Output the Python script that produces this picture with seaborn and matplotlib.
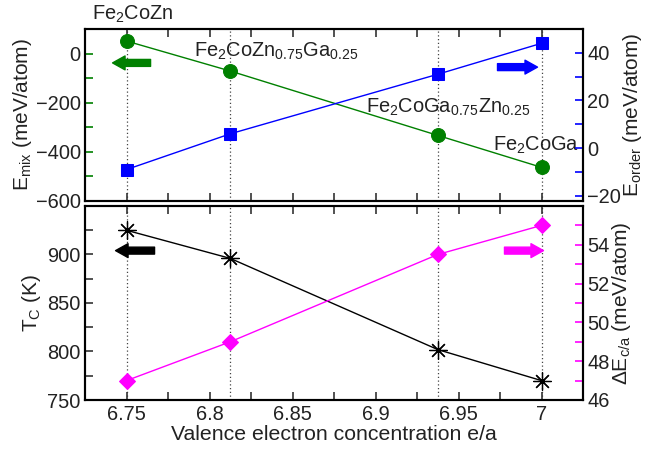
import numpy as np
import pandas as pd
import matplotlib
matplotlib.use("Agg")
import matplotlib.pyplot as plt
import seaborn as sns
from matplotlib.ticker import MultipleLocator, FixedLocator

# ---- data ----
ea = [6.75, 6.8125, 6.9375, 7.0]
e_mix = [51, -71, -333, -463]
e_order = [-9, 6, 31, 44]
tc = [925, 896, 802, 770]
de_ca = [47.0, 49.0, 53.5, 55.0]
compounds = ["Fe$_2$CoZn", "Fe$_2$CoZn$_{0.75}$Ga$_{0.25}$",
             "Fe$_2$CoGa$_{0.75}$Zn$_{0.25}$", "Fe$_2$CoGa"]
xticks = [6.75, 6.8, 6.85, 6.9, 6.95, 7.0]
xtick_labels = ["6.75", "6.8", "6.85", "6.9", "6.95", "7"]

df = pd.DataFrame({"ea": ea, "emix": e_mix, "eorder": e_order, "tc": tc, "deca": de_ca})

sns.set_theme(style="ticks")
plt.rcParams["font.family"] = ["Liberation Sans", "DejaVu Sans"]
plt.rcParams["mathtext.default"] = "regular"
plt.rcParams["axes.linewidth"] = 1.5

GREEN = "#008000"
BLUE = "#0000ff"
MAG = "#ff00ff"
TXT = "#222222"

fig = plt.figure(figsize=(6.46, 4.51), dpi=100)
ax1 = fig.add_axes([85/646, 1-201/451, (583-85)/646, (201-29)/451])
ax2 = fig.add_axes([85/646, 1-400/451, (583-85)/646, (400-206)/451])
ax1r = ax1.twinx()
ax2r = ax2.twinx()

for ax in (ax1, ax2):
    for xv in ea:
        ax.axvline(xv, color="#444444", linestyle=(0, (1, 2)), linewidth=0.9, zorder=0)

sns.lineplot(data=df, x="ea", y="emix", ax=ax1, color=GREEN, marker="o", markersize=10,
             markeredgecolor=GREEN, linewidth=1)
sns.lineplot(data=df, x="ea", y="eorder", ax=ax1r, color=BLUE, marker="s", markersize=9,
             markeredgecolor=BLUE, linewidth=1)
sns.lineplot(data=df, x="ea", y="tc", ax=ax2, color="black", marker=(8, 2, 0), markersize=13,
             markeredgecolor="black", markeredgewidth=0.9, linewidth=1)
sns.lineplot(data=df, x="ea", y="deca", ax=ax2r, color=MAG, marker="D", markersize=8,
             markeredgecolor=MAG, linewidth=1)

FS = 14.4
LFS = 15.0
for ax in (ax1, ax2):
    ax.set_xlim(6.725, 7.025)
    ax.xaxis.set_major_locator(FixedLocator(xticks))
    ax.xaxis.set_minor_locator(MultipleLocator(0.025))
    ax.tick_params(axis="x", which="both", direction="in", top=True, bottom=True,
                   length=6, width=1.2, labelsize=FS, color="#333333", labelcolor=TXT)
ax1.set_xticklabels([])
ax2.set_xticklabels(xtick_labels)
ax1.set_xlabel("")
ax2.set_xlabel("Valence electron concentration e/a", fontsize=LFS + 0.3, labelpad=1, color=TXT)

ax1.set_ylim(-600, 100)
ax1.set_yticks([-600, -400, -200, 0])
ax1.yaxis.set_minor_locator(FixedLocator([-500, -300, -100]))
ax1.tick_params(axis="y", which="both", direction="in", length=6, width=1.2,
                color=GREEN, labelsize=FS, labelcolor=TXT, pad=3)
ax1.set_ylabel("E$_{mix}$ (meV/atom)", fontsize=LFS, labelpad=1, color=TXT)

ax1r.set_ylim(-22.2, 50)
ax1r.set_yticks([-20, 0, 20, 40])
ax1r.yaxis.set_minor_locator(FixedLocator([-10, 10, 30]))
ax1r.tick_params(axis="y", which="both", direction="in", length=6, width=1.2,
                 color=BLUE, labelsize=FS, labelcolor=TXT, pad=3)
ax1r.set_ylabel("E$_{order}$ (meV/atom)", fontsize=LFS, labelpad=0, color=TXT)

ax2.set_ylim(750, 950)
ax2.set_yticks([750, 800, 850, 900])
ax2.yaxis.set_minor_locator(FixedLocator([775, 825, 875, 925]))
ax2.tick_params(axis="y", which="both", direction="in", length=6, width=1.2,
                color="#333333", labelsize=FS, labelcolor=TXT, pad=3)
ax2.set_ylabel("T$_C$ (K)", fontsize=LFS, labelpad=3, color=TXT)

ax2r.set_ylim(46, 56)
ax2r.set_yticks([46, 48, 50, 52, 54])
ax2r.yaxis.set_minor_locator(FixedLocator([47, 49, 51, 53, 55]))
ax2r.tick_params(axis="y", which="both", direction="in", length=6, width=1.2,
                 color=MAG, labelsize=FS, labelcolor=TXT, pad=3)
ax2r.set_ylabel("ΔE$_{c/a}$ (meV/atom)", fontsize=LFS, labelpad=0, color=TXT)

for ax in (ax1, ax1r, ax2, ax2r):
    for s in ax.spines.values():
        s.set_linewidth(1.5)
        s.set_color("black")

# compound labels
lab_pos = [(6.754, 160), (6.840, 10), (6.944, -218), (6.997, -372)]
for (lx, ly), txt in zip(lab_pos, compounds):
    ax1.text(lx, ly, txt, fontsize=FS, ha="center", va="center", clip_on=False, color=TXT)

# direction arrows
def arrow(ax, x0, x1, y, c):
    ax.annotate("", xy=(x1, y), xytext=(x0, y),
                arrowprops=dict(arrowstyle="simple,head_length=0.45,head_width=0.5,tail_width=0.25",
                                color=c, shrinkA=0, shrinkB=0, mutation_scale=20))

arrow(ax1, 6.7645, 6.7416, -38, GREEN)
arrow(ax1r, 6.9735, 6.9976, 34, BLUE)
arrow(ax2, 6.7669, 6.7434, 904, "black")
arrow(ax2r, 6.9777, 7.0012, 53.7, MAG)

fig.savefig("out.png", dpi=100)
